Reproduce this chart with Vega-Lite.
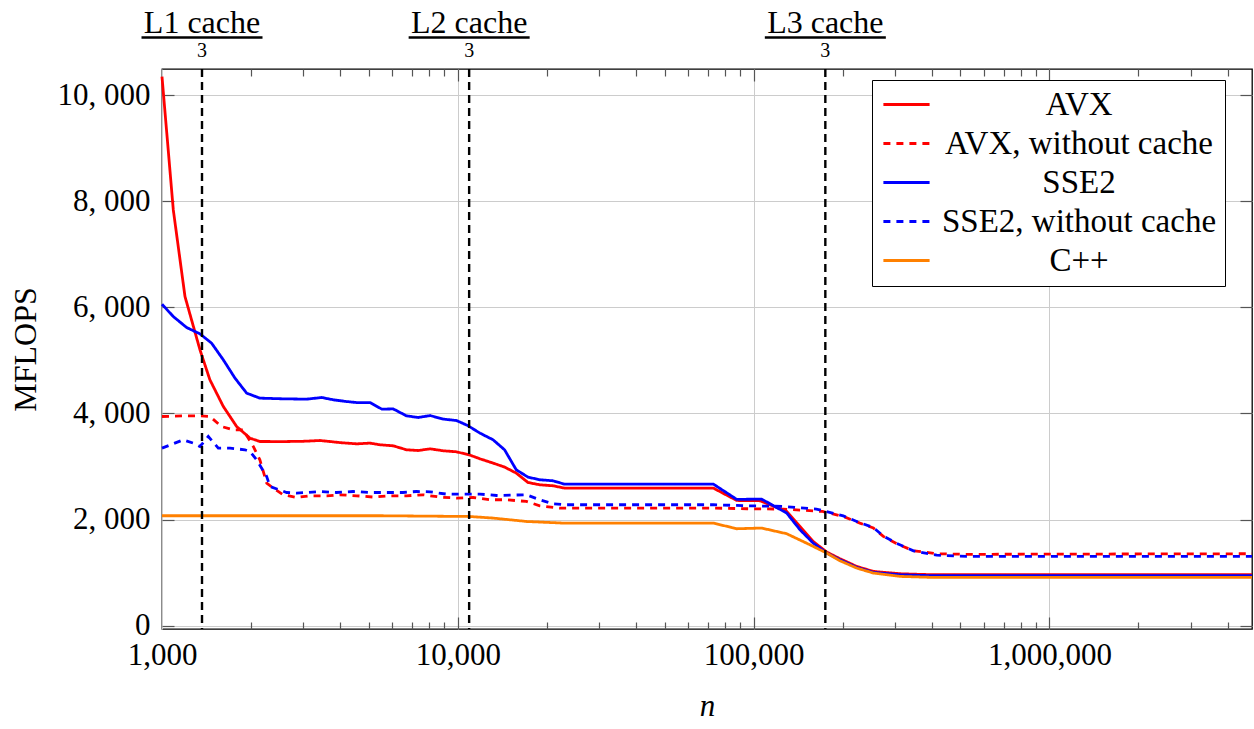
{
  "$schema": "https://vega.github.io/schema/vega-lite/v6.json",
  "width": 1090,
  "height": 560,
  "autosize": {"type": "none"},
  "padding": {"left": 162, "top": 69, "right": 2, "bottom": 100},
  "background": "white",
  "config": {
    "view": {"stroke": "black", "strokeWidth": 1.3},
    "font": "Liberation Serif",
    "axis": {"labelFont": "Liberation Serif", "titleFont": "Liberation Serif", "labelColor": "black", "titleColor": "black", "tickColor": "#555555", "tickWidth": 1.2, "domain": false}
  },
  "datasets": {
    "perf": [
      {"series": "AVX", "n": 1000, "mflops": 10345},
      {"series": "AVX", "n": 1092, "mflops": 7834},
      {"series": "AVX", "n": 1196, "mflops": 6202},
      {"series": "AVX", "n": 1344, "mflops": 5198},
      {"series": "AVX", "n": 1452, "mflops": 4633},
      {"series": "AVX", "n": 1612, "mflops": 4130},
      {"series": "AVX", "n": 1788, "mflops": 3753},
      {"series": "AVX", "n": 1983, "mflops": 3535},
      {"series": "AVX", "n": 2142, "mflops": 3471},
      {"series": "AVX", "n": 2600, "mflops": 3470},
      {"series": "AVX", "n": 3000, "mflops": 3475},
      {"series": "AVX", "n": 3424, "mflops": 3490},
      {"series": "AVX", "n": 4000, "mflops": 3450},
      {"series": "AVX", "n": 4547, "mflops": 3427},
      {"series": "AVX", "n": 5047, "mflops": 3440},
      {"series": "AVX", "n": 5460, "mflops": 3409},
      {"series": "AVX", "n": 6048, "mflops": 3390},
      {"series": "AVX", "n": 6704, "mflops": 3315},
      {"series": "AVX", "n": 7350, "mflops": 3301},
      {"series": "AVX", "n": 8060, "mflops": 3333},
      {"series": "AVX", "n": 8930, "mflops": 3296},
      {"series": "AVX", "n": 9900, "mflops": 3277},
      {"series": "AVX", "n": 10980, "mflops": 3215},
      {"series": "AVX", "n": 11880, "mflops": 3145},
      {"series": "AVX", "n": 13160, "mflops": 3064},
      {"series": "AVX", "n": 14390, "mflops": 2989},
      {"series": "AVX", "n": 15760, "mflops": 2876},
      {"series": "AVX", "n": 17260, "mflops": 2699},
      {"series": "AVX", "n": 18930, "mflops": 2655},
      {"series": "AVX", "n": 20970, "mflops": 2637},
      {"series": "AVX", "n": 22920, "mflops": 2593},
      {"series": "AVX", "n": 73100, "mflops": 2593},
      {"series": "AVX", "n": 87700, "mflops": 2360},
      {"series": "AVX", "n": 105000, "mflops": 2355},
      {"series": "AVX", "n": 129400, "mflops": 2154},
      {"series": "AVX", "n": 143500, "mflops": 1870},
      {"series": "AVX", "n": 159000, "mflops": 1588},
      {"series": "AVX", "n": 176600, "mflops": 1388},
      {"series": "AVX", "n": 195900, "mflops": 1262},
      {"series": "AVX", "n": 223000, "mflops": 1117},
      {"series": "AVX", "n": 254000, "mflops": 1023},
      {"series": "AVX", "n": 312700, "mflops": 979},
      {"series": "AVX", "n": 405000, "mflops": 960},
      {"series": "AVX", "n": 4840000, "mflops": 960},
      {"series": "AVX, without cache", "n": 1000, "mflops": 3942},
      {"series": "AVX, without cache", "n": 1180, "mflops": 3955},
      {"series": "AVX, without cache", "n": 1344, "mflops": 3955},
      {"series": "AVX, without cache", "n": 1452, "mflops": 3942},
      {"series": "AVX, without cache", "n": 1590, "mflops": 3753},
      {"series": "AVX, without cache", "n": 1740, "mflops": 3691},
      {"series": "AVX, without cache", "n": 1883, "mflops": 3691},
      {"series": "AVX, without cache", "n": 2035, "mflops": 3377},
      {"series": "AVX, without cache", "n": 2142, "mflops": 3126},
      {"series": "AVX, without cache", "n": 2260, "mflops": 2687},
      {"series": "AVX, without cache", "n": 2376, "mflops": 2593},
      {"series": "AVX, without cache", "n": 2570, "mflops": 2467},
      {"series": "AVX, without cache", "n": 2852, "mflops": 2416},
      {"series": "AVX, without cache", "n": 3166, "mflops": 2448},
      {"series": "AVX, without cache", "n": 3604, "mflops": 2448},
      {"series": "AVX, without cache", "n": 3994, "mflops": 2467},
      {"series": "AVX, without cache", "n": 4547, "mflops": 2448},
      {"series": "AVX, without cache", "n": 5180, "mflops": 2424},
      {"series": "AVX, without cache", "n": 5898, "mflops": 2448},
      {"series": "AVX, without cache", "n": 6704, "mflops": 2448},
      {"series": "AVX, without cache", "n": 7630, "mflops": 2467},
      {"series": "AVX, without cache", "n": 8690, "mflops": 2424},
      {"series": "AVX, without cache", "n": 9900, "mflops": 2405},
      {"series": "AVX, without cache", "n": 11270, "mflops": 2416},
      {"series": "AVX, without cache", "n": 12830, "mflops": 2373},
      {"series": "AVX, without cache", "n": 14630, "mflops": 2373},
      {"series": "AVX, without cache", "n": 17050, "mflops": 2341},
      {"series": "AVX, without cache", "n": 18930, "mflops": 2260},
      {"series": "AVX, without cache", "n": 22100, "mflops": 2216},
      {"series": "AVX, without cache", "n": 73100, "mflops": 2216},
      {"series": "AVX, without cache", "n": 95000, "mflops": 2204},
      {"series": "AVX, without cache", "n": 126000, "mflops": 2197},
      {"series": "AVX, without cache", "n": 171000, "mflops": 2153},
      {"series": "AVX, without cache", "n": 201000, "mflops": 2058},
      {"series": "AVX, without cache", "n": 228700, "mflops": 1934},
      {"series": "AVX, without cache", "n": 254000, "mflops": 1840},
      {"series": "AVX, without cache", "n": 274500, "mflops": 1682},
      {"series": "AVX, without cache", "n": 305000, "mflops": 1544},
      {"series": "AVX, without cache", "n": 347000, "mflops": 1412},
      {"series": "AVX, without cache", "n": 416000, "mflops": 1356},
      {"series": "AVX, without cache", "n": 525000, "mflops": 1345},
      {"series": "AVX, without cache", "n": 4840000, "mflops": 1356},
      {"series": "SSE2", "n": 1000, "mflops": 6058},
      {"series": "SSE2", "n": 1092, "mflops": 5825},
      {"series": "SSE2", "n": 1212, "mflops": 5618},
      {"series": "SSE2", "n": 1344, "mflops": 5499},
      {"series": "SSE2", "n": 1471, "mflops": 5324},
      {"series": "SSE2", "n": 1612, "mflops": 5009},
      {"series": "SSE2", "n": 1765, "mflops": 4665},
      {"series": "SSE2", "n": 1933, "mflops": 4382},
      {"series": "SSE2", "n": 2142, "mflops": 4288},
      {"series": "SSE2", "n": 2570, "mflops": 4275},
      {"series": "SSE2", "n": 3085, "mflops": 4269},
      {"series": "SSE2", "n": 3467, "mflops": 4300},
      {"series": "SSE2", "n": 3798, "mflops": 4256},
      {"series": "SSE2", "n": 4211, "mflops": 4224},
      {"series": "SSE2", "n": 4547, "mflops": 4205},
      {"series": "SSE2", "n": 5047, "mflops": 4205},
      {"series": "SSE2", "n": 5535, "mflops": 4081},
      {"series": "SSE2", "n": 6048, "mflops": 4085},
      {"series": "SSE2", "n": 6704, "mflops": 3955},
      {"series": "SSE2", "n": 7350, "mflops": 3923},
      {"series": "SSE2", "n": 8060, "mflops": 3960},
      {"series": "SSE2", "n": 8930, "mflops": 3893},
      {"series": "SSE2", "n": 9900, "mflops": 3866},
      {"series": "SSE2", "n": 10800, "mflops": 3772},
      {"series": "SSE2", "n": 11880, "mflops": 3629},
      {"series": "SSE2", "n": 13160, "mflops": 3503},
      {"series": "SSE2", "n": 14390, "mflops": 3315},
      {"series": "SSE2", "n": 15760, "mflops": 2938},
      {"series": "SSE2", "n": 17260, "mflops": 2800},
      {"series": "SSE2", "n": 18930, "mflops": 2750},
      {"series": "SSE2", "n": 20970, "mflops": 2731},
      {"series": "SSE2", "n": 22920, "mflops": 2668},
      {"series": "SSE2", "n": 73100, "mflops": 2668},
      {"series": "SSE2", "n": 87700, "mflops": 2380},
      {"series": "SSE2", "n": 106400, "mflops": 2386},
      {"series": "SSE2", "n": 129400, "mflops": 2122},
      {"series": "SSE2", "n": 143500, "mflops": 1808},
      {"series": "SSE2", "n": 159000, "mflops": 1557},
      {"series": "SSE2", "n": 176600, "mflops": 1369},
      {"series": "SSE2", "n": 195900, "mflops": 1243},
      {"series": "SSE2", "n": 223000, "mflops": 1098},
      {"series": "SSE2", "n": 254000, "mflops": 1004},
      {"series": "SSE2", "n": 312700, "mflops": 960},
      {"series": "SSE2", "n": 405000, "mflops": 941},
      {"series": "SSE2", "n": 4840000, "mflops": 941},
      {"series": "SSE2, without cache", "n": 1000, "mflops": 3346},
      {"series": "SSE2, without cache", "n": 1180, "mflops": 3503},
      {"series": "SSE2, without cache", "n": 1276, "mflops": 3440},
      {"series": "SSE2, without cache", "n": 1344, "mflops": 3377},
      {"series": "SSE2, without cache", "n": 1434, "mflops": 3565},
      {"series": "SSE2, without cache", "n": 1550, "mflops": 3346},
      {"series": "SSE2, without cache", "n": 1698, "mflops": 3346},
      {"series": "SSE2, without cache", "n": 1907, "mflops": 3315},
      {"series": "SSE2, without cache", "n": 1983, "mflops": 3282},
      {"series": "SSE2, without cache", "n": 2089, "mflops": 3126},
      {"series": "SSE2, without cache", "n": 2259, "mflops": 2812},
      {"series": "SSE2, without cache", "n": 2318, "mflops": 2623},
      {"series": "SSE2, without cache", "n": 2640, "mflops": 2510},
      {"series": "SSE2, without cache", "n": 2852, "mflops": 2499},
      {"series": "SSE2, without cache", "n": 3085, "mflops": 2510},
      {"series": "SSE2, without cache", "n": 3424, "mflops": 2529},
      {"series": "SSE2, without cache", "n": 3888, "mflops": 2510},
      {"series": "SSE2, without cache", "n": 4425, "mflops": 2529},
      {"series": "SSE2, without cache", "n": 5047, "mflops": 2510},
      {"series": "SSE2, without cache", "n": 5740, "mflops": 2510},
      {"series": "SSE2, without cache", "n": 6530, "mflops": 2510},
      {"series": "SSE2, without cache", "n": 7240, "mflops": 2529},
      {"series": "SSE2, without cache", "n": 8060, "mflops": 2523},
      {"series": "SSE2, without cache", "n": 9150, "mflops": 2480},
      {"series": "SSE2, without cache", "n": 10420, "mflops": 2480},
      {"series": "SSE2, without cache", "n": 11880, "mflops": 2480},
      {"series": "SSE2, without cache", "n": 13530, "mflops": 2454},
      {"series": "SSE2, without cache", "n": 17050, "mflops": 2467},
      {"series": "SSE2, without cache", "n": 18930, "mflops": 2373},
      {"series": "SSE2, without cache", "n": 20970, "mflops": 2298},
      {"series": "SSE2, without cache", "n": 23300, "mflops": 2279},
      {"series": "SSE2, without cache", "n": 73100, "mflops": 2279},
      {"series": "SSE2, without cache", "n": 95000, "mflops": 2260},
      {"series": "SSE2, without cache", "n": 126000, "mflops": 2248},
      {"series": "SSE2, without cache", "n": 163000, "mflops": 2197},
      {"series": "SSE2, without cache", "n": 201000, "mflops": 2070},
      {"series": "SSE2, without cache", "n": 228700, "mflops": 1940},
      {"series": "SSE2, without cache", "n": 254000, "mflops": 1850},
      {"series": "SSE2, without cache", "n": 274500, "mflops": 1690},
      {"series": "SSE2, without cache", "n": 305000, "mflops": 1550},
      {"series": "SSE2, without cache", "n": 347000, "mflops": 1410},
      {"series": "SSE2, without cache", "n": 416000, "mflops": 1330},
      {"series": "SSE2, without cache", "n": 525000, "mflops": 1306},
      {"series": "SSE2, without cache", "n": 4840000, "mflops": 1306},
      {"series": "C++", "n": 1000, "mflops": 2072},
      {"series": "C++", "n": 5460, "mflops": 2072},
      {"series": "C++", "n": 10980, "mflops": 2058},
      {"series": "C++", "n": 13160, "mflops": 2028},
      {"series": "C++", "n": 17100, "mflops": 1964},
      {"series": "C++", "n": 22600, "mflops": 1934},
      {"series": "C++", "n": 73100, "mflops": 1934},
      {"series": "C++", "n": 87700, "mflops": 1827},
      {"series": "C++", "n": 106400, "mflops": 1840},
      {"series": "C++", "n": 129400, "mflops": 1733},
      {"series": "C++", "n": 155000, "mflops": 1525},
      {"series": "C++", "n": 176600, "mflops": 1369},
      {"series": "C++", "n": 195900, "mflops": 1224},
      {"series": "C++", "n": 223000, "mflops": 1087},
      {"series": "C++", "n": 254000, "mflops": 992},
      {"series": "C++", "n": 312700, "mflops": 929},
      {"series": "C++", "n": 405000, "mflops": 910},
      {"series": "C++", "n": 4840000, "mflops": 910}
    ],
    "caches": [
      {"n": 1365.33, "label": "L1 cache", "den": "3"},
      {"n": 10922.67, "label": "L2 cache", "den": "3"},
      {"n": 174762.67, "label": "L3 cache", "den": "3"}
    ]
  },
  "resolve": {"axis": {"x": "independent", "y": "independent"}},
  "layer": [
    {
      "data": {"name": "perf"},
      "mark": {"type": "line", "strokeWidth": 2.8},
      "encoding": {
        "x": {
          "field": "n", "type": "quantitative",
          "scale": {"type": "log", "domain": [1000, 4840000], "nice": false},
          "axis": {"orient": "bottom", "values": [1000, 10000, 100000, 1000000], "format": ",d", "grid": true, "gridColor": "#cccccc", "gridWidth": 1, "ticks": false, "labelFontSize": 31, "labelPadding": 11, "labelFlush": false, "labelOverlap": false, "title": "n", "titleFontSize": 31, "titleFontStyle": "italic", "titleFontWeight": "normal", "titlePadding": 21}
        },
        "y": {
          "field": "mflops", "type": "quantitative",
          "scale": {"domain": [-62, 10490], "nice": false, "zero": false},
          "axis": {"orient": "left", "values": [0, 2000, 4000, 6000, 8000, 10000], "labelExpr": "replace(format(datum.value, ',d'), ',', ', ')", "grid": true, "gridColor": "#cccccc", "gridWidth": 1, "ticks": false, "labelFontSize": 31, "labelPadding": 12, "labelFlush": false, "labelOverlap": false, "title": "MFLOPS", "titleFontSize": 32, "titleFontWeight": "normal", "titlePadding": 15}
        },
        "color": {
          "field": "series", "type": "nominal",
          "scale": {"domain": ["AVX", "AVX, without cache", "SSE2", "SSE2, without cache", "C++"], "range": ["#ff0000", "#ff0000", "#0000ff", "#0000ff", "#ff8000"]},
          "legend": {"title": null, "orient": "none", "legendX": 710, "legendY": 11, "symbolType": "M-1.65,0L1.65,0", "symbolSize": 784, "symbolStrokeWidth": 2.8, "symbolOffset": 10, "labelFont": "Liberation Serif", "labelFontSize": 33, "labelColor": "black", "labelAlign": "center", "labelOffset": 156, "labelLimit": 600, "rowPadding": 5, "padding": 8, "strokeColor": "black", "fillColor": "white"}
        },
        "strokeDash": {
          "field": "series", "type": "nominal",
          "scale": {"domain": ["AVX", "AVX, without cache", "SSE2", "SSE2, without cache", "C++"], "range": [[1, 0], [7, 6], [1, 0], [7, 6], [1, 0]]},
          "legend": {"title": null, "orient": "none", "legendX": 710, "legendY": 11, "symbolType": "M-1.65,0L1.65,0", "symbolSize": 784, "symbolStrokeWidth": 2.8, "symbolOffset": 10, "labelFont": "Liberation Serif", "labelFontSize": 33, "labelColor": "black", "labelAlign": "center", "labelOffset": 156, "labelLimit": 600, "rowPadding": 5, "padding": 8, "strokeColor": "black", "fillColor": "white"}
        }
      }
    },
    {
      "data": {"name": "caches"},
      "mark": {"type": "rule", "color": "black", "strokeWidth": 2.4, "strokeDash": [8, 5]},
      "encoding": {
        "x": {"field": "n", "type": "quantitative", "axis": {"orient": "bottom", "values": [2000, 3000, 4000, 5000, 6000, 7000, 8000, 9000, 20000, 30000, 40000, 50000, 60000, 70000, 80000, 90000, 200000, 300000, 400000, 500000, 600000, 700000, 800000, 900000, 2000000, 3000000, 4000000], "labels": false, "grid": false, "ticks": true, "tickSize": -7, "title": null}}
      }
    },
    {
      "data": {"name": "caches"},
      "mark": {"type": "text", "fontSize": 32, "font": "Liberation Serif", "align": "center", "baseline": "alphabetic", "color": "black"},
      "encoding": {
        "x": {"field": "n", "type": "quantitative", "axis": {"orient": "top", "values": [10000, 100000, 1000000], "labels": false, "grid": false, "ticks": true, "tickSize": -12, "title": null}},
        "y": {"datum": 11168, "type": "quantitative", "axis": {"orient": "right", "values": [0, 2000, 4000, 6000, 8000, 10000], "labels": false, "grid": false, "ticks": true, "tickSize": -12, "title": null}},
        "text": {"field": "label"}
      }
    },
    {
      "data": {"name": "caches"},
      "mark": {"type": "tick", "orient": "horizontal", "size": 121, "thickness": 2.5, "color": "black", "opacity": 1},
      "encoding": {
        "x": {"field": "n", "type": "quantitative", "axis": {"orient": "top", "values": [2000, 3000, 4000, 5000, 6000, 7000, 8000, 9000, 20000, 30000, 40000, 50000, 60000, 70000, 80000, 90000, 200000, 300000, 400000, 500000, 600000, 700000, 800000, 900000, 2000000, 3000000, 4000000], "labels": false, "grid": false, "ticks": true, "tickSize": -7, "title": null}},
        "y": {"datum": 11084, "type": "quantitative", "axis": {"orient": "left", "values": [0, 2000, 4000, 6000, 8000, 10000], "labels": false, "grid": false, "ticks": true, "tickSize": -12, "title": null}}
      }
    },
    {
      "data": {"name": "caches"},
      "mark": {"type": "text", "fontSize": 20, "font": "Liberation Serif", "align": "center", "baseline": "alphabetic", "color": "black"},
      "encoding": {
        "x": {"field": "n", "type": "quantitative", "axis": {"orient": "bottom", "values": [10000, 100000, 1000000], "labels": false, "grid": false, "ticks": true, "tickSize": -12, "title": null}},
        "y": {"datum": 10716, "type": "quantitative", "axis": null},
        "text": {"field": "den"}
      }
    }
  ]
}
